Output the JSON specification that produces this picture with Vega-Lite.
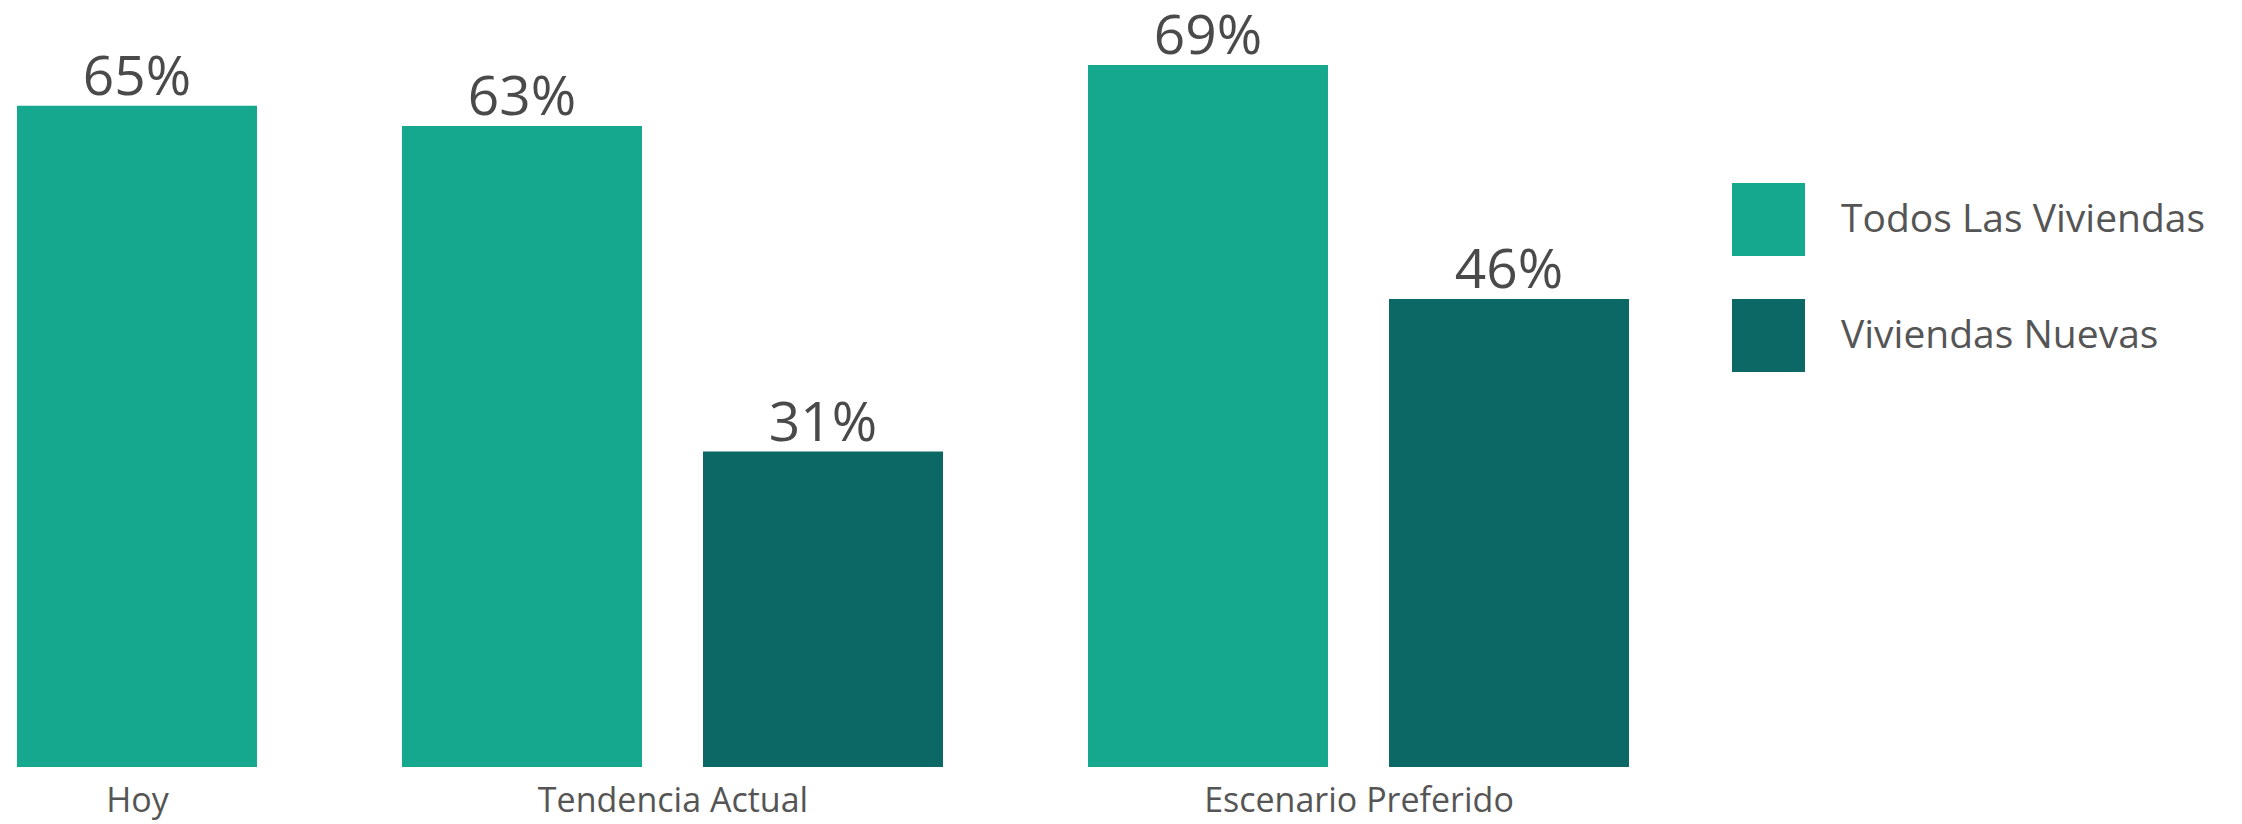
{
  "$schema": "https://vega.github.io/schema/vega-lite/v6.json",
  "padding": {"left": 17, "top": 7, "right": 0, "bottom": 7},
  "background": "white",
  "config": {
    "view": {"stroke": null},
    "font": "Open Sans",
    "axisX": {
      "labels": false,
      "ticks": false,
      "domain": false,
      "grid": false,
      "titleFont": "Open Sans",
      "titleFontSize": 34,
      "titleFontWeight": "normal",
      "titleColor": "#555555",
      "titleBaseline": "alphabetic",
      "titlePadding": 44
    }
  },
  "data": {
    "values": [
      {"escenario": "Hoy", "serie": "Todos Las Viviendas", "pct": 0.65},
      {"escenario": "Tendencia Actual", "serie": "Todos Las Viviendas", "pct": 0.63},
      {"escenario": "Tendencia Actual", "serie": "Viviendas Nuevas", "pct": 0.31},
      {"escenario": "Escenario Preferido", "serie": "Todos Las Viviendas", "pct": 0.69},
      {"escenario": "Escenario Preferido", "serie": "Viviendas Nuevas", "pct": 0.46}
    ]
  },
  "spacing": 145,
  "resolve": {"scale": {"x": "independent"}},
  "hconcat": [
    {
      "transform": [{"filter": {"field": "escenario", "equal": "Hoy"}}],
      "width": {"step": 301},
      "height": 760,
      "encoding": {
        "x": {"field": "serie", "type": "nominal", "title": "Hoy", "scale": {"paddingInner": 0.2027, "paddingOuter": 0}},
        "y": {"field": "pct", "type": "quantitative", "axis": null, "scale": {"domain": [0, 0.747]}}
      },
      "layer": [
        {
          "mark": {"type": "bar"},
          "encoding": {
            "color": {
              "field": "serie",
              "type": "nominal",
              "scale": {"domain": ["Todos Las Viviendas", "Viviendas Nuevas"], "range": ["#16a88f", "#0b6865"]},
              "legend": {
                "title": null,
                "orient": "none",
                "legendX": 1715,
                "legendY": 176,
                "symbolType": "square",
                "symbolSize": 5329,
                "symbolStrokeWidth": 0,
                "rowPadding": 43,
                "labelOffset": 36,
                "labelFont": "Open Sans",
                "labelFontSize": 39,
                "labelColor": "#555555",
                "labelLimit": 600
              }
            }
          }
        },
        {
          "mark": {"type": "text", "baseline": "alphabetic", "dy": -11, "font": "Open Sans", "fontSize": 55, "color": "#4a4a4a"},
          "encoding": {"text": {"field": "pct", "type": "quantitative", "format": ".0%"}}
        }
      ]
    },
    {
      "transform": [{"filter": {"field": "escenario", "equal": "Tendencia Actual"}}],
      "width": {"step": 301},
      "height": 760,
      "encoding": {
        "x": {"field": "serie", "type": "nominal", "title": "Tendencia Actual", "scale": {"paddingInner": 0.2027, "paddingOuter": 0}},
        "y": {"field": "pct", "type": "quantitative", "axis": null, "scale": {"domain": [0, 0.747]}}
      },
      "layer": [
        {
          "mark": {"type": "bar"},
          "encoding": {"color": {"field": "serie", "type": "nominal"}}
        },
        {
          "mark": {"type": "text", "baseline": "alphabetic", "dy": -11, "font": "Open Sans", "fontSize": 55, "color": "#4a4a4a"},
          "encoding": {"text": {"field": "pct", "type": "quantitative", "format": ".0%"}}
        }
      ]
    },
    {
      "transform": [{"filter": {"field": "escenario", "equal": "Escenario Preferido"}}],
      "width": {"step": 301},
      "height": 760,
      "encoding": {
        "x": {"field": "serie", "type": "nominal", "title": "Escenario Preferido", "scale": {"paddingInner": 0.2027, "paddingOuter": 0}},
        "y": {"field": "pct", "type": "quantitative", "axis": null, "scale": {"domain": [0, 0.747]}}
      },
      "layer": [
        {
          "mark": {"type": "bar"},
          "encoding": {"color": {"field": "serie", "type": "nominal"}}
        },
        {
          "mark": {"type": "text", "baseline": "alphabetic", "dy": -11, "font": "Open Sans", "fontSize": 55, "color": "#4a4a4a"},
          "encoding": {"text": {"field": "pct", "type": "quantitative", "format": ".0%"}}
        }
      ]
    }
  ]
}
